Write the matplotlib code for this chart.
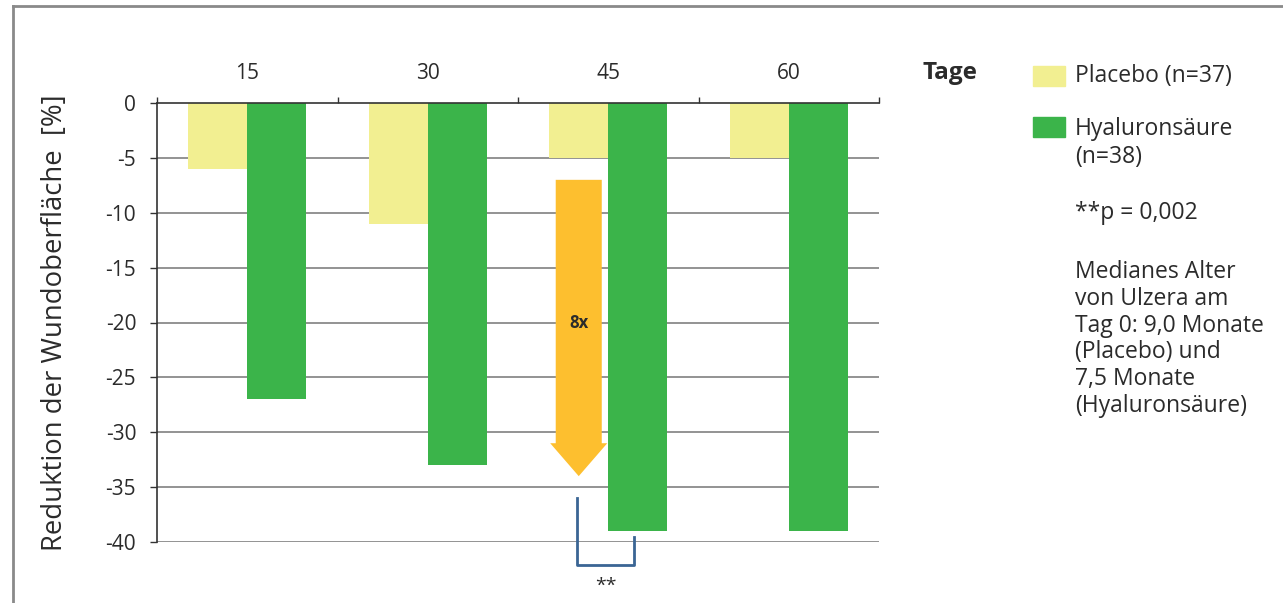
import numpy as np
import matplotlib.pyplot as plt
from matplotlib.patches import FancyArrow, Rectangle
from matplotlib.lines import Line2D

plt.rcParams['font.family'] = ['Open Sans', 'DejaVu Sans']

tage = ["15", "30", "45", "60"]
placebo = [-6, -11, -5, -5]
hyaluron = [-27, -33, -39, -39]
y_ticks = [0, -5, -10, -15, -20, -25, -30, -35, -40]

c_placebo = "#f2ef91"
c_hyal = "#3bb44a"
c_arrow = "#fdbf2f"
c_bracket = "#3a6594"
c_text = "#2b2b2b"


def main():
    fig = plt.figure(figsize=(12.83, 6.03), dpi=100)
    ax = fig.add_axes([157 / 1283, 1 - 542 / 603, 722 / 1283, 439 / 603])

    x = np.arange(len(tage))
    w = 0.327
    ax.bar(x - w / 2, placebo, w, color=c_placebo, zorder=2)
    ax.bar(x + w / 2, hyaluron, w, color=c_hyal, zorder=2)

    ax.set_xlim(-0.5, 3.5)
    ax.set_ylim(-40, 0)

    # gridlines
    for v in y_ticks[1:]:
        ax.axhline(v, color="#8a8a8a", lw=1.3, zorder=1)
    ax.set_yticks(y_ticks)
    ax.set_yticklabels([str(v) for v in y_ticks], fontsize=15, color=c_text)
    ax.tick_params(axis="y", length=5, width=1, color="#333333", pad=10)

    ax.xaxis.tick_top()
    ax.set_xticks(x)
    ax.set_xticklabels(tage, fontsize=15, color=c_text)
    ax.set_xticks(np.arange(-0.5, 4, 1), minor=True)
    ax.tick_params(axis="x", which="major", length=0, pad=14)
    ax.tick_params(axis="x", which="minor", length=4.5, width=1, color="#333333", direction="out")

    for s in ["right", "bottom"]:
        ax.spines[s].set_visible(False)
    ax.spines["top"].set_color("#333333")
    ax.spines["top"].set_linewidth(1.2)
    ax.spines["left"].set_color("#333333")
    ax.spines["left"].set_linewidth(1.2)

    ax.set_ylabel("Reduktion der Wundoberfläche  [%]", fontsize=19.8, color=c_text, labelpad=26)

    # arrow at day 45
    ax_arrow = x[2] - w / 2
    ax.add_patch(FancyArrow(ax_arrow, -7, 0, -27, width=0.255, head_width=0.316,
                            head_length=3, length_includes_head=True,
                            color=c_arrow, lw=0, zorder=3))
    ax.text(ax_arrow, -20, "8x", ha="center", va="center", fontsize=12,
            fontweight="bold", color=c_text, zorder=4)

    # significance bracket
    bx0 = x[2] - w / 2 - 0.01
    bx1 = x[2] + w / 2 - 0.02
    ax.plot([bx0, bx0, bx1, bx1], [-36, -42.1, -42.1, -39.5], color=c_bracket,
            lw=2, clip_on=False, zorder=3)
    ax.text((bx0 + bx1) / 2, -44, "**", ha="center", va="center", fontsize=14,
            color=c_text, clip_on=False)

    # legend and notes
    fig.text(922 / 1283, 1 - 73 / 603, "Tage", fontsize=17.5, fontweight="bold",
             color=c_text, va="center", ha="left")
    fig.add_artist(Rectangle((1033 / 1283, 1 - 86 / 603), 32 / 1283, 20 / 603,
                             transform=fig.transFigure, color=c_placebo))
    fig.add_artist(Rectangle((1033 / 1283, 1 - 137 / 603), 32 / 1283, 20 / 603,
                             transform=fig.transFigure, color=c_hyal))
    tx = 1075 / 1283
    fs = 16.5
    fig.text(tx, 1 - 76 / 603, "Placebo (n=37)", fontsize=fs, color=c_text, va="center")
    fig.text(tx, 1 - 143 / 603, "Hyaluronsäure\n(n=38)", fontsize=fs, color=c_text,
             va="center", linespacing=1.25)
    fig.text(tx, 1 - 213 / 603, "**p = 0,002", fontsize=fs, color=c_text, va="center")
    fig.text(tx, 1 - 339 / 603,
             "Medianes Alter\nvon Ulzera am\nTag 0: 9,0 Monate\n(Placebo) und\n7,5 Monate\n(Hyaluronsäure)",
             fontsize=fs, color=c_text, va="center", linespacing=1.15)

    # outer frame
    fy = 1 - 6 / 603
    fx = 13 / 1283
    fig.add_artist(Line2D([fx, 1], [fy, fy], transform=fig.transFigure, color="#8a8a8a", lw=2))
    fig.add_artist(Line2D([fx, fx], [0, fy], transform=fig.transFigure, color="#8a8a8a", lw=2))

    fig.savefig("out.png", dpi=100)


if __name__ == "__main__":
    main()
